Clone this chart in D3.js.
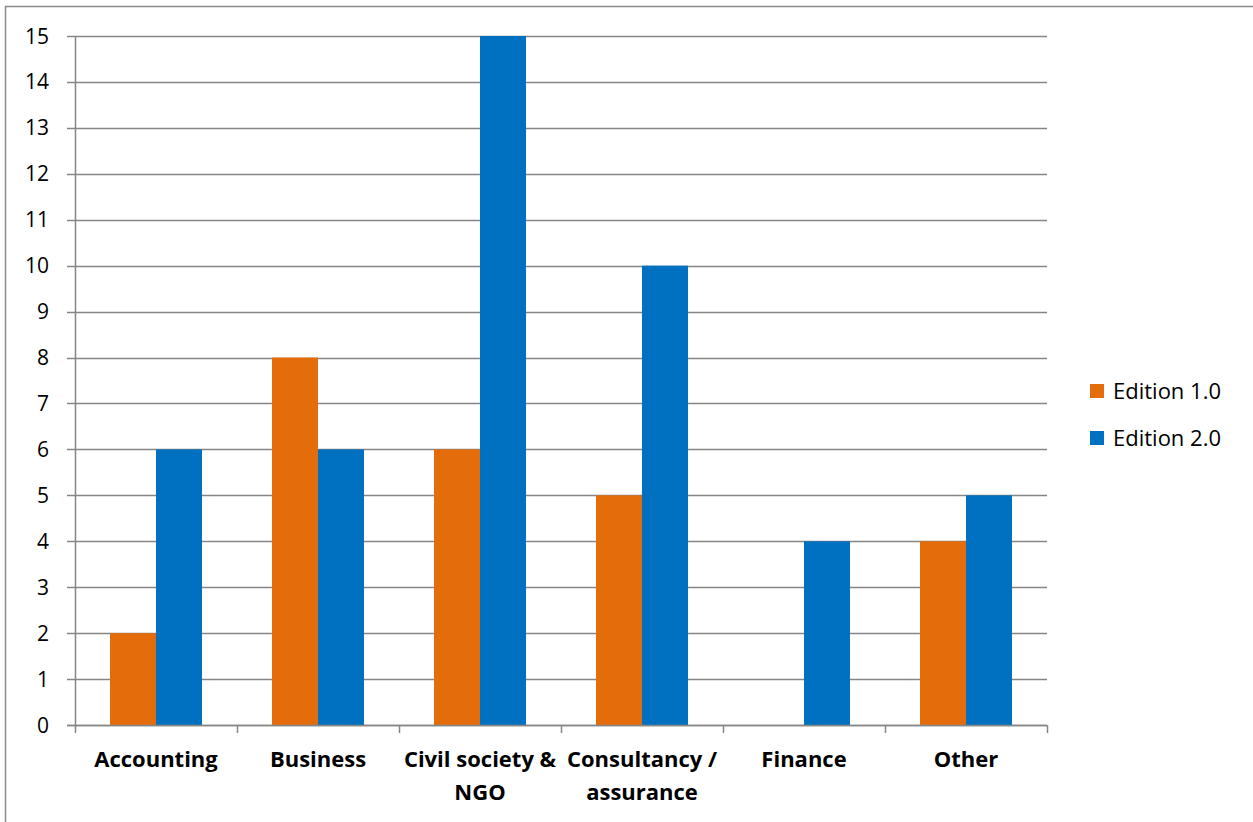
<!DOCTYPE html>
<html>
<head>
<meta charset="utf-8">
<script src="https://cdn.jsdelivr.net/npm/d3@7"></script>
<style>
  body { margin: 0; background: #fff; }
  text { font-family: "Open Sans", "Liberation Sans", sans-serif; }
</style>
</head>
<body>
<div id="chart"></div>
<script>
var categories = [["Accounting"], ["Business"], ["Civil society &", "NGO"], ["Consultancy /", "assurance"], ["Finance"], ["Other"]];
var series = ["Edition 1.0", "Edition 2.0"];
var edition1 = [2, 8, 6, 5, 0, 4];
var edition2 = [6, 6, 15, 10, 4, 5];
var yTicks = d3.range(0, 16);

var width = 1253,
  height = 822;

var colors = ["#E46C0A", "#0070C0"];
var gridColor = "#868686";

var svg = d3.select("#chart")
  .append("svg")
  .attr("width", width)
  .attr("height", height);

// outer chart frame
svg.append("rect")
  .attr("x", 5.5).attr("y", 6.5)
  .attr("width", 1260).attr("height", 830)
  .attr("fill", "none")
  .attr("stroke", "#8a8a8a")
  .attr("stroke-width", 1.5);

var x = d3.scaleBand()
  .domain(d3.range(categories.length))
  .range([75, 1047])
  .paddingInner(0)
  .paddingOuter(0);

var y = d3.scaleLinear()
  .domain([0, 15])
  .range([725, 36]);

var x1 = d3.scaleBand()
  .domain([0, 1])
  .range([35, x.bandwidth() - 35]);

// gridlines
svg.append("g")
  .selectAll("line")
  .data(yTicks)
  .enter().append("line")
  .attr("x1", 67)
  .attr("x2", 1047)
  .attr("y1", function(d) { return Math.round(y(d)) + 0.5; })
  .attr("y2", function(d) { return Math.round(y(d)) + 0.5; })
  .attr("stroke", gridColor)
  .attr("stroke-width", 1.5);

// y tick labels
svg.append("g")
  .selectAll("text")
  .data(yTicks)
  .enter().append("text")
  .attr("x", 49)
  .attr("y", function(d) { return y(d); })
  .attr("dy", "0.36em")
  .attr("text-anchor", "end")
  .attr("font-size", 21)
  .attr("fill", "#000")
  .text(function(d) { return d; });

var rows = categories.map(function(c, i) {
  return [edition1[i], edition2[i]];
});

var groups = svg.append("g")
  .selectAll("g")
  .data(rows)
  .enter().append("g")
  .attr("transform", function(d, i) { return "translate(" + x(i) + ",0)"; });

groups.selectAll("rect")
  .data(function(d) { return d; })
  .enter().append("rect")
  .attr("x", function(d, j) { return x1(j); })
  .attr("width", x1.bandwidth())
  .attr("y", function(d) { return y(d); })
  .attr("height", function(d) { return y(0) - y(d); })
  .attr("fill", function(d, j) { return colors[j]; });

// y axis line
svg.append("line")
  .attr("x1", 75.5).attr("x2", 75.5)
  .attr("y1", y(15)).attr("y2", y(0))
  .attr("stroke", gridColor)
  .attr("stroke-width", 1.5);

// x axis line + category ticks
svg.append("line")
  .attr("x1", 67).attr("x2", 1047)
  .attr("y1", Math.round(y(0)) + 0.5).attr("y2", Math.round(y(0)) + 0.5)
  .attr("stroke", gridColor)
  .attr("stroke-width", 1.5);

svg.append("g")
  .selectAll("line")
  .data(d3.range(categories.length + 1))
  .enter().append("line")
  .attr("x1", function(i) { return 75.5 + i * x.bandwidth(); })
  .attr("x2", function(i) { return 75.5 + i * x.bandwidth(); })
  .attr("y1", y(0))
  .attr("y2", y(0) + 8)
  .attr("stroke", gridColor)
  .attr("stroke-width", 1.5);

// category labels
var labels = svg.append("g")
  .selectAll("text")
  .data(categories)
  .enter().append("text")
  .attr("text-anchor", "middle")
  .attr("font-size", 22)
  .attr("font-weight", "bold")
  .attr("fill", "#000")
  .attr("transform", function(d, i) { return "translate(" + (x(i) + x.bandwidth() / 2) + ",767)"; });

labels.selectAll("tspan")
  .data(function(d) { return d; })
  .enter().append("tspan")
  .attr("x", 0)
  .attr("y", function(d, k) { return k * 33; })
  .text(function(d) { return d; });

// legend
var legend = svg.append("g")
  .selectAll("g")
  .data(series)
  .enter().append("g")
  .attr("transform", function(d, i) { return "translate(1090," + (384 + i * 47) + ")"; });

legend.append("rect")
  .attr("width", 14)
  .attr("height", 14)
  .attr("fill", function(d, i) { return colors[i]; });

legend.append("text")
  .attr("x", 23)
  .attr("y", 7)
  .attr("dy", "0.36em")
  .attr("font-size", 22)
  .attr("fill", "#000")
  .text(function(d) { return d; });
</script>
</body>
</html>
